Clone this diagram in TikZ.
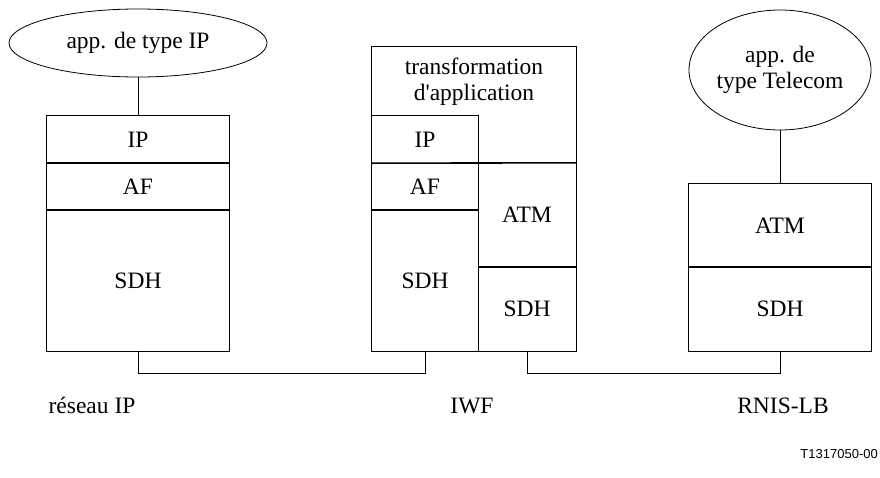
\documentclass[tikz,border=0pt]{standalone}
\usepackage{fontspec}
\setmainfont{Liberation Serif}
\newfontfamily\figsans{Liberation Sans}
\usetikzlibrary{shapes.geometric}

\begin{document}
\begin{tikzpicture}[x=1pt,y=-1pt,
  every node/.style={font=\fontsize{23.5}{26}\selectfont, inner sep=0pt},
  layer/.style={rectangle, align=center},
  app/.style={ellipse, draw, line width=0.8pt, align=center},
  frame/.style={line width=0.8pt},
  divider/.style={line width=1.6pt},
  link/.style={line width=0.8pt},
  netlabel/.style={anchor=base}
]
\useasboundingbox (0,0) rectangle (880,477);

% ---------- IP terminal ----------
\node[app, minimum width=258pt, minimum height=68pt] (lapp) at (138,43) {app. de type IP};
\node[layer, minimum width=182pt, minimum height=47pt] (lIP)  at (138,139.5) {IP};
\node[layer, minimum width=182pt, minimum height=47pt] (lAF)  at (138,186.5) {AF};
\node[layer, minimum width=182pt, minimum height=140.7pt] (lSDH) at (138,280.35) {SDH};
\draw[frame] (lIP.north west) rectangle (lSDH.south east);
\draw[divider] (lIP.south west) -- (lIP.south east);
\draw[divider] (lAF.south west) -- (lAF.south east);
\draw[link] (lapp.south) -- (lIP.north);

% ---------- interworking function ----------
\node[layer, minimum width=204pt, minimum height=69pt] (mtr) at (474,81.5) {transformation\\d\textquotesingle application};
\node[layer, minimum width=106pt, minimum height=47pt] (mIP) at (425,139.5) {IP};
\node[layer, minimum width=106pt, minimum height=47pt] (mAF) at (425,186.5) {AF};
\node[layer, minimum width=106pt, minimum height=140.7pt] (mSDHl) at (425,280.35) {SDH};
\node[layer, minimum width=98pt, minimum height=104pt] (mATM) at (527,215) {ATM};
\node[layer, minimum width=98pt, minimum height=83.7pt] (mSDHr) at (527,308.85) {SDH};
\draw[frame] (mtr.north west) rectangle (mSDHr.south east);
\draw[frame] (mIP.north west) -- (mIP.north east) -- (mSDHl.south east);
\draw[divider] (mIP.south west) -- (mATM.north east);
\draw[divider] (mAF.south west) -- (mAF.south east);
\draw[divider] (mATM.south west) -- (mATM.south east);

% ---------- telecom terminal ----------
\node[app, minimum width=182pt, minimum height=120pt] (rapp) at (780,70) {app. de\\type Telecom};
\node[layer, minimum width=182pt, minimum height=83pt] (rATM) at (780,225.5) {ATM};
\node[layer, minimum width=182pt, minimum height=83.7pt] (rSDH) at (780,308.85) {SDH};
\draw[frame] (rATM.north west) rectangle (rSDH.south east);
\draw[divider] (rATM.south west) -- (rATM.south east);
\draw[link] (rapp.south) -- (rATM.north);

% ---------- physical links ----------
\draw[link] (lSDH.south) -- ++(0,22.3) -| (mSDHl.south);
\draw[link] (mSDHr.south) -- ++(0,22.3) -| (rSDH.south);

% ---------- network labels ----------
\node[netlabel] (netip)  at (92,413)  {réseau IP};
\node[netlabel] (netiwf) at (472,413) {IWF};
\node[netlabel] (netlb)  at (783,413) {RNIS-LB};
\node[anchor=east, font=\figsans\fontsize{13}{15}\selectfont] (ref) at (878,454) {T1317050-00};
\end{tikzpicture}
\end{document}
